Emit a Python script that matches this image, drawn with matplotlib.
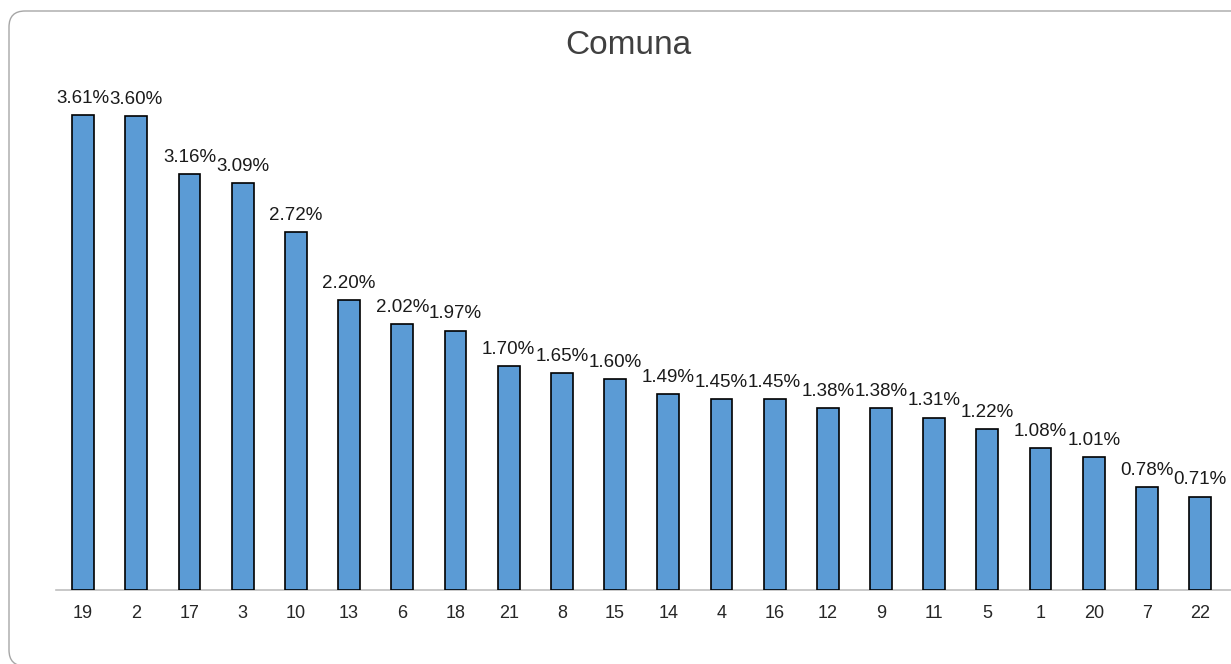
import numpy as np
import matplotlib
matplotlib.use('Agg')
import matplotlib.pyplot as plt
from matplotlib.patches import FancyBboxPatch
from matplotlib.transforms import IdentityTransform

# datos
comunas = ['19', '2', '17', '3', '10', '13', '6', '18', '21', '8', '15',
           '14', '4', '16', '12', '9', '11', '5', '1', '20', '7', '22']
porcentajes = [3.61, 3.60, 3.16, 3.09, 2.72, 2.20, 2.02, 1.97, 1.70, 1.65, 1.60,
               1.49, 1.45, 1.45, 1.38, 1.38, 1.31, 1.22, 1.08, 1.01, 0.78, 0.71]

plt.rcParams['font.family'] = ['Liberation Sans', 'DejaVu Sans']

W, H = 1231, 664
fig = plt.figure(figsize=(W / 100, H / 100), dpi=100)

# marco redondeado del grafico (en pixeles)
marco = FancyBboxPatch((9, -2), 1240, H - 11 + 2,
                       boxstyle='round,pad=0,rounding_size=16',
                       transform=IdentityTransform(), facecolor='none',
                       edgecolor='#A6A6A6', linewidth=1.0, zorder=-1)
fig.patches.append(marco)

ax = fig.add_axes([56 / W, (H - 590) / H, (W - 56) / W, (590 - 80) / H])
ax.patch.set_alpha(0)

x = np.arange(len(comunas))
bars = ax.bar(x, porcentajes, width=0.41, color='#5B9BD5',
              edgecolor='black', linewidth=1.2, zorder=3)

for xi, v in zip(x, porcentajes):
    ax.annotate(f'{v:.2f}%', (xi, v), xytext=(0, 6), textcoords='offset points',
                ha='center', va='bottom', fontsize=13.5, color='#1a1a1a')

ax.set_xlim(-0.51, 21.58)
ax.set_ylim(0, (590 - 80) / 131.6)
ax.set_xticks(x)
ax.set_xticklabels(comunas, fontsize=13, color='#262626')
ax.tick_params(axis='x', length=0, pad=11)
ax.set_yticks([])
for s in ['top', 'right', 'left']:
    ax.spines[s].set_visible(False)
ax.spines['bottom'].set_color('#BFBFBF')
ax.spines['bottom'].set_linewidth(1.2)

fig.text(628 / W, 1 - 45 / H, 'Comuna', ha='center', va='center',
         fontsize=24, color='#404040')

fig.savefig('out.png', dpi=100)
